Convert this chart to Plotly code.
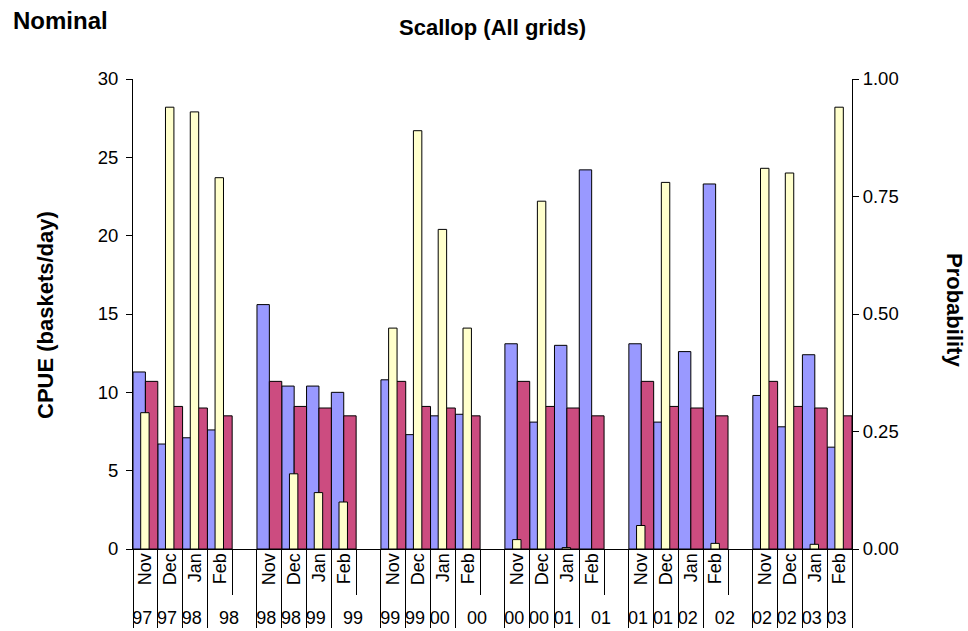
import plotly.graph_objects as go

# ---- data ----
months = ["Nov", "Dec", "Jan", "Feb", "",
          "Nov", "Dec", "Jan", "Feb", "",
          "Nov", "Dec", "Jan", "Feb", "",
          "Nov", "Dec", "Jan", "Feb", "",
          "Nov", "Dec", "Jan", "Feb", "",
          "Nov", "Dec", "Jan", "Feb"]
years = ["97", "97", "98", "98", "",
         "98", "98", "99", "99", "",
         "99", "99", "00", "00", "",
         "00", "00", "01", "01", "",
         "01", "01", "02", "02", "",
         "02", "02", "03", "03"]

cpue_obs = [11.3, 6.7, 7.1, 7.6, None,
            15.6, 10.4, 10.4, 10.0, None,
            10.8, 7.3, 8.5, 8.6, None,
            13.1, 8.1, 13.0, 24.2, None,
            13.1, 8.1, 12.6, 23.3, None,
            9.8, 7.8, 12.4, 6.5]
cpue_mean = [10.7, 9.1, 9.0, 8.5, None,
             10.7, 9.1, 9.0, 8.5, None,
             10.7, 9.1, 9.0, 8.5, None,
             10.7, 9.1, 9.0, 8.5, None,
             10.7, 9.1, 9.0, 8.5, None,
             10.7, 9.1, 9.0, 8.5]
probability = [0.29, 0.94, 0.93, 0.79, None,
               None, 0.16, 0.12, 0.10, None,
               0.47, 0.89, 0.68, 0.47, None,
               0.02, 0.74, 0.003, None, None,
               0.05, 0.78, None, 0.012, None,
               0.81, 0.80, 0.01, 0.94]

# Build multicategory keys: each month keeps its own year label,
# blank slots merge with the preceding year label.
outer = []
prev = ""
for i, y in enumerate(years):
    if y == "":
        key = prev
    else:
        key = y + "\u200b" * i
    outer.append(key)
    prev = key
inner = [m if m else "\u200b" * (i + 1) for i, m in enumerate(months)]
x = [outer, inner]

FONT = "Liberation Sans, Arial, sans-serif"
line = dict(color="black", width=1)

fig = go.Figure()
fig.add_trace(go.Bar(x=x, y=cpue_obs, name="CPUE", marker=dict(color="#9999FF", line=line),
                     offset=-0.5, width=0.5, yaxis="y"))
fig.add_trace(go.Bar(x=x, y=cpue_mean, name="Mean", marker=dict(color="#CC4C80", line=line),
                     offset=0.0, width=0.5, yaxis="y"))
fig.add_trace(go.Bar(x=x, y=probability, name="Probability", marker=dict(color="#FFFFCC", line=line),
                     offset=-0.19, width=0.34, yaxis="y2"))

fig.update_layout(
    width=968, height=631,
    margin=dict(l=133, r=116, t=79, b=82, autoexpand=False),
    paper_bgcolor="white", plot_bgcolor="white",
    barmode="overlay",
    showlegend=False,
    font=dict(family=FONT, size=18, color="black"),
    title=dict(text="<b>Scallop (All grids)</b>", x=0.5, xref="paper", xanchor="center",
               y=1 - 27 / 631, yanchor="middle", font=dict(size=22, family=FONT, color="black")),
    xaxis=dict(type="multicategory", showline=True, linecolor="black", linewidth=1,
               automargin=False,
               tickangle=-90, ticks="outside", ticklen=45, tickcolor="black",
               ticklabelstandoff=-4,
               showdividers=True, dividercolor="black", dividerwidth=1,
               tickfont=dict(size=18, family=FONT, color="black"),
               showgrid=False, zeroline=False),
    yaxis=dict(range=[0, 30], dtick=5, showline=True, linecolor="black", linewidth=1,
               automargin=False,
               ticks="outside", ticklen=6, tickcolor="black", showgrid=False, zeroline=False,
               ticklabelstandoff=4,
               tickfont=dict(size=18.5, family=FONT, color="black")),
    yaxis2=dict(range=[0, 1], dtick=0.25, tickformat=".2f", overlaying="y", side="right",
                automargin=False,
                showline=True, linecolor="black", linewidth=1,
                ticks="outside", ticklen=6, tickcolor="black", showgrid=False, zeroline=False,
                tickfont=dict(size=18.5, family=FONT, color="black")),
    annotations=[
        dict(text="<b>Nominal</b>", xref="paper", yref="paper", x=(11 - 133) / 719,
             y=(549 - 20) / 470, xanchor="left", yanchor="middle", showarrow=False,
             font=dict(size=24, family=FONT, color="black")),
        dict(text="<b>CPUE (baskets/day)</b>", xref="paper", yref="paper", x=(45 - 133) / 719,
             y=(549 - 315) / 470, xanchor="center", yanchor="middle", textangle=-90,
             showarrow=False, font=dict(size=22, family=FONT, color="black")),
        dict(text="<b>Probability</b>", xref="paper", yref="paper", x=(955 - 133) / 719,
             y=(549 - 310) / 470, xanchor="center", yanchor="middle", textangle=90,
             showarrow=False, font=dict(size=22, family=FONT, color="black")),
    ],
)

fig.write_html("out.html", config={"displayModeBar": False},
               post_script="document.body.style.margin='0px';")
